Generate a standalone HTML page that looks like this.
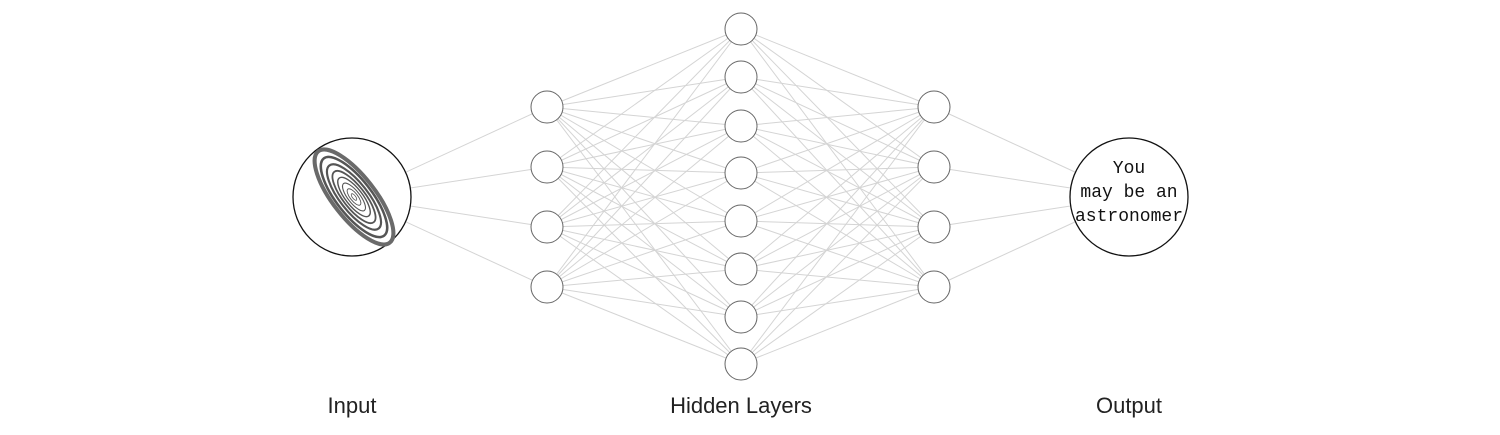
<!DOCTYPE html>
<html><head><style>body{margin:0;background:#fff;width:1500px;height:430px;overflow:hidden}</style></head><body>
<svg id="s" width="1500" height="430" xmlns="http://www.w3.org/2000/svg">
<g id="edges" stroke="#d4d4d4" stroke-width="1"></g>
<g id="nodes"></g>
<g transform="translate(354,197) rotate(52)" fill="none" stroke="#555">
<ellipse rx="58" ry="21" stroke-width="4" stroke="#6a6a6a"/>
<ellipse rx="49" ry="17.5" stroke-width="2.5"/>
<ellipse rx="40" ry="14" stroke-width="2.2"/>
<ellipse rx="32" ry="11" stroke-width="1.8"/>
<ellipse rx="24" ry="8.5" stroke-width="1.4"/>
<ellipse rx="17" ry="6" stroke-width="1.1"/>
<ellipse rx="10" ry="3.8" stroke-width="0.9"/>
<ellipse rx="4" ry="1.6" stroke-width="0.8"/>
</g>
<g font-family="Liberation Mono, monospace" font-size="18" text-anchor="middle" fill="#111">
<text x="1129" y="173">You</text>
<text x="1129" y="197">may be an</text>
<text x="1129" y="221">astronomer</text>
</g>
<g font-family="Liberation Sans, sans-serif" font-size="22" text-anchor="middle" fill="#222">
<text x="352" y="413">Input</text>
<text x="741" y="413">Hidden Layers</text>
<text x="1129" y="413">Output</text>
</g>
</svg>
<script>
var ns="http://www.w3.org/2000/svg",E=document.getElementById("edges"),N=document.getElementById("nodes");
var L1=[107,167,227,287],L2=[29,77,126,173,221,269,317,364],L3=[107,167,227,287];
function ln(a,b,c,d){var l=document.createElementNS(ns,"line");l.setAttribute("x1",a);l.setAttribute("y1",b);l.setAttribute("x2",c);l.setAttribute("y2",d);E.appendChild(l);}
function ci(x,y,r,w){var c=document.createElementNS(ns,"circle");c.setAttribute("cx",x);c.setAttribute("cy",y);c.setAttribute("r",r);c.setAttribute("fill","#fff");c.setAttribute("stroke",w?"#111":"#666");c.setAttribute("stroke-width",w?1.3:1);N.appendChild(c);}
L1.forEach(function(y){ln(352,197,547,y);L2.forEach(function(z){ln(547,y,741,z);});});
L3.forEach(function(y){ln(934,y,1129,197);L2.forEach(function(z){ln(741,z,934,y);});});
ci(352,197,59,1);ci(1129,197,59,1);
L1.forEach(function(y){ci(547,y,16);});L2.forEach(function(y){ci(741,y,16);});L3.forEach(function(y){ci(934,y,16);});
</script>
</body></html>
